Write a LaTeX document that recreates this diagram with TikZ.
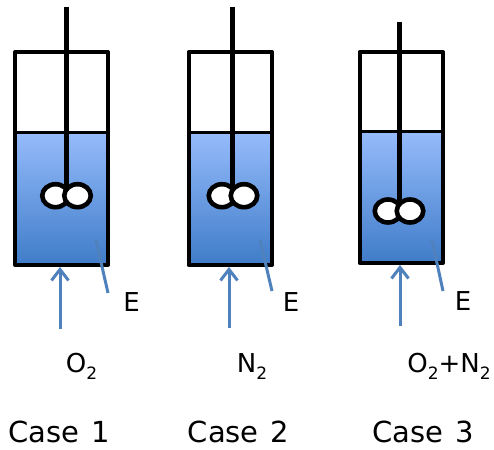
\documentclass[tikz,border=0pt]{standalone}
\usepackage{fontspec}
\setmainfont{DejaVu Sans}
\newfontfamily\casefont[WordSpace=1.3]{DejaVu Sans}
\definecolor{ltop}{HTML}{95BBFB}
\definecolor{lbot}{HTML}{3F7CC8}
\definecolor{arr}{HTML}{4F81BD}
\usetikzlibrary{arrows.meta,shapes.geometric}
\newcommand{\subtwo}{\raisebox{-7pt}{\fontsize{17}{20}\selectfont 2}}
\tikzset{
 x=1pt,y=-1pt,
 vessel/.style={draw=black,line width=4pt,line join=round},
 liquid/.style={top color=ltop,bottom color=lbot,draw=none},
 level/.style={draw=black,line width=3pt},
 shaft/.style={draw=black,line width=5pt},
 blade/.style={ellipse,draw=black,fill=white,line width=4.6pt,minimum width=26.5pt,minimum height=23pt,inner sep=0pt},
 feed/.style={draw=arr,line width=3pt,-{Straight Barb[length=11pt,width=17pt,line width=3pt]}},
 lead/.style={draw=arr,line width=3pt},
 lab/.style={font=\fontsize{26}{30}\selectfont,inner sep=0pt},
 casel/.style={font=\casefont\fontsize{29}{32}\selectfont,inner sep=0pt}
}
\begin{document}
\begin{tikzpicture}
\useasboundingbox[fill=white] (0,0) rectangle (494,449);
% Case 1
\fill[liquid] (15,133) rectangle (108,265);
\draw[vessel] (15,52) rectangle (108,265);
\draw[level] (15,133) -- (108,133);
\draw[shaft] (66.5,7) -- (66.5,188);
\node[blade] (a1) at (55.5,195.7) {};
\node[blade] (a2) at (77.5,195.7) {};
\coordinate (f1) at (60,329); \coordinate (t1) at (60,267);
\draw[feed] (f1) -- (t1);
\coordinate (g1) at (96,240); \coordinate (h1) at (108,293);
\draw[lead] (g1) -- (h1);
\node[lab] (e1) at (131.5,302) {E};
\node[lab,anchor=base] (o1) at (81.500,372) {O\subtwo};
\node[casel,anchor=base] (c1l) at (59,442) {Case 1};
% Case 2
\fill[liquid] (188.500,133) rectangle (272,265);
\draw[vessel] (188.500,52) rectangle (272,265);
\draw[level] (188.500,133) -- (272,133);
\draw[shaft] (232.700,7) -- (232.700,188);
\node[blade] (b1) at (222,195.7) {};
\node[blade] (b2) at (244,195.7) {};
\coordinate (f2) at (229,328); \coordinate (t2) at (229,267);
\draw[feed] (f2) -- (t2);
\coordinate (g2) at (260,240); \coordinate (h2) at (272,291);
\draw[lead] (g2) -- (h2);
\node[lab] (e2) at (291,302) {E};
\node[lab,anchor=base] (o2) at (252,372) {N\subtwo};
\node[casel,anchor=base] (c2l) at (238.500,442) {Case 2};
% Case 3
\fill[liquid] (359.500,132) rectangle (443,263);
\draw[vessel] (359.500,52) rectangle (443,263);
\draw[level] (359.500,132) -- (443,132);
\draw[shaft] (399,22) -- (399,204);
\node[blade] (c1) at (388,211) {};
\node[blade] (c2) at (410,211) {};
\coordinate (f3) at (400,326); \coordinate (t3) at (400,265);
\draw[feed] (f3) -- (t3);
\coordinate (g3) at (432,240); \coordinate (h3) at (443,291);
\draw[lead] (g3) -- (h3);
\node[lab] (e3) at (463,301) {E};
\node[lab,anchor=base] (o3) at (449,372) {O\subtwo{}+N\subtwo};
\node[casel,anchor=base] (c3l) at (423,442) {Case 3};
\end{tikzpicture}
\end{document}
